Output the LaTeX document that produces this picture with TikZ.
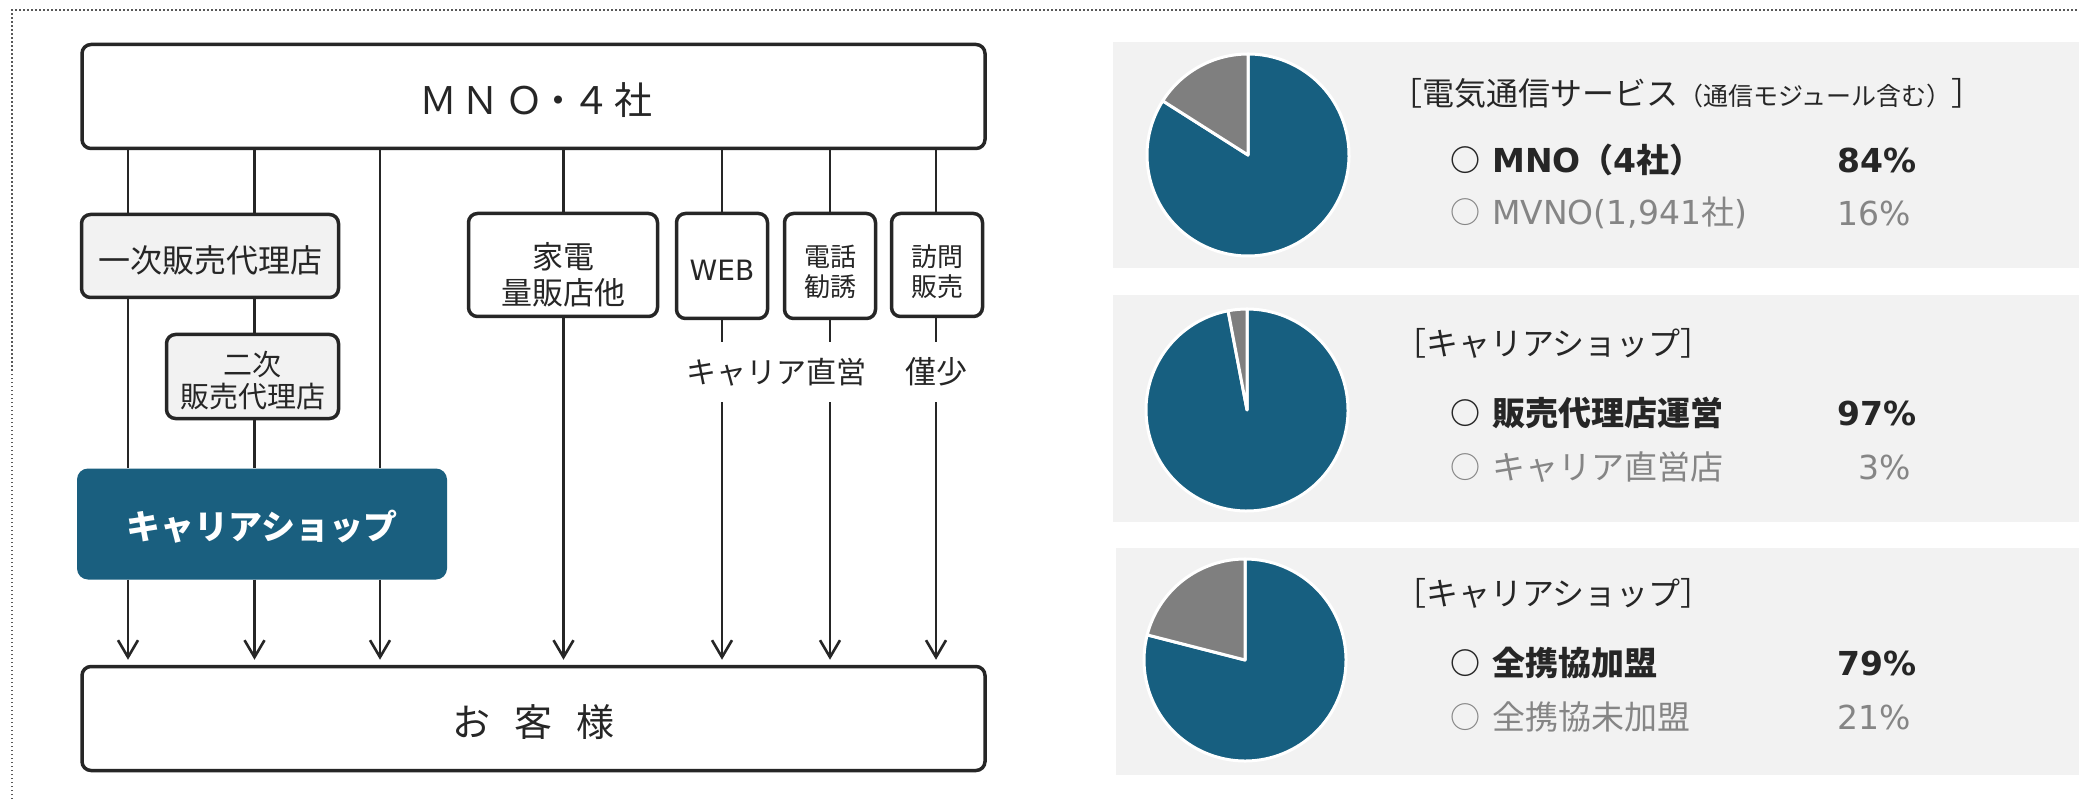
\documentclass[tikz,border=0pt]{standalone}
\usepackage{fontspec}
\setmainfont{Noto Sans CJK JP}
\newfontfamily\latf{DejaVu Sans}
\usetikzlibrary{arrows.meta}
\definecolor{dk}{HTML}{262626}
\definecolor{blu}{HTML}{175F80}
\definecolor{shopblu}{HTML}{1A5F7F}
\definecolor{pgray}{HTML}{7F7F7F}
\definecolor{tgray}{HTML}{858585}
\definecolor{panel}{HTML}{F2F2F2}
\newcommand\myfs[2]{\fontsize{#1pt}{#2pt}\selectfont}
\newcommand\mycirc{\raisebox{1pt}{\myfs{30}{30}○}\hspace{12pt}}
\begin{document}
\begin{tikzpicture}[x=1pt,y=1pt,
  box/.style={draw=dk,line width=3.5pt,rounded corners=9pt,fill=white,inner sep=0pt},
  gbox/.style={box,fill=panel},
  txt/.style={text=dk,inner sep=0pt,align=center},
  conn/.style={draw=dk,line width=2.6pt},
  arr/.style={conn,shorten >=5pt,-{Straight Barb[length=17pt,width=20pt]}},
  slice/.style={draw=white,line width=3pt,line join=round},
  ttl/.style={text=dk,inner sep=0pt,anchor=west,font=\myfs{32}{36}},
  itmb/.style={text=dk,inner sep=0pt,anchor=west,font={\bfseries\myfs{33}{36}}},
  itmg/.style={text=tgray,inner sep=0pt,anchor=west,font={\myfs{33}{36}}},
  pctb/.style={text=dk,inner sep=0pt,anchor=east,font={\latf\bfseries\myfs{33}{36}}},
  pctg/.style={text=tgray,inner sep=0pt,anchor=east,font={\latf\myfs{33}{36}}}]
\useasboundingbox (0,0) rectangle (2079,-799);
\fill[white] (0,0) rectangle (2079,-799);
% dotted frame
\draw[draw=black!65,line width=1.5pt,dash pattern=on 1.5pt off 2.5pt] (12,-799) -- (12,-10) -- (2079,-10);

% column coordinates
\coordinate (k1) at (128,0);
\coordinate (k2) at (254.5,0);
\coordinate (k3) at (380,0);
\coordinate (k4) at (563.5,0);
\coordinate (k5) at (722,0);
\coordinate (k6) at (830,0);
\coordinate (k7) at (936,0);

% boxes
\node[box,minimum width=903pt,minimum height=104pt] (mno) at (533.5,-96.5) {};
\node[txt,font=\myfs{38}{40}] (mnot) at (536,-100) {Ｍ\hspace{5pt}Ｎ\hspace{6pt}Ｏ\hspace{-5pt}・\hspace{-5pt}４\hspace{5pt}社};
\node[gbox,minimum width=257pt,minimum height=83pt] (ichi) at (210,-256) {};
\node[txt,font=\myfs{32}{36}] (ichit) at (210,-260) {一次販売代理店};
\node[gbox,minimum width=172pt,minimum height=84pt] (niji) at (252.5,-376.5) {};
\node[txt,font=\myfs{29}{32}] (nijit) at (252.5,-381) {二次\\販売代理店};
\node[box,minimum width=189pt,minimum height=103pt] (kaden) at (563,-265) {};
\node[txt,font=\myfs{31}{36}] (kadent) at (563,-275) {家電\\量販店他};
\node[box,minimum width=91pt,minimum height=105pt] (web) at (722,-266) {};
\node[txt,font={\latf\myfs{28}{30}}] (webt) at (722,-270) {WEB};
\node[box,minimum width=91pt,minimum height=105pt] (denwa) at (830,-266) {};
\node[txt,font=\myfs{26}{30}] (denwat) at (830,-272) {電話\\勧誘};
\node[box,minimum width=91pt,minimum height=103pt] (homon) at (937,-265) {};
\node[txt,font=\myfs{26}{30}] (homont) at (937,-272) {訪問\\販売};
\node[fill=shopblu,rounded corners=11pt,minimum width=370pt,minimum height=111pt,inner sep=0pt] (shop) at (262,-524) {};
\node[txt,text=white,font={\bfseries\myfs{34}{36}}] (shopt) at (262,-527) {キャリアショップ};
\node[box,minimum width=903pt,minimum height=104pt] (cust) at (533.5,-718.5) {};
\node[txt,font=\myfs{38}{40}] (custt) at (533.5,-722) {お\hspace{24pt}客\hspace{24pt}様};

% labels under WEB / 電話 / 訪問
\node[txt,font=\myfs{30}{32},minimum height=60pt] (lab1) at (776,-372) {キャリア直営};
\node[txt,font=\myfs{31}{32},minimum height=60pt] (lab2) at (936,-372) {僅少};

% connectors
\draw[conn] (mno.south -| k1) -- (ichi.north -| k1);
\draw[conn] (ichi.south -| k1) -- (shop.north -| k1);
\draw[arr] (shop.south -| k1) -- (cust.north -| k1);
\draw[conn] (mno.south -| k2) -- (ichi.north -| k2);
\draw[conn] (ichi.south -| k2) -- (niji.north -| k2);
\draw[conn] (niji.south -| k2) -- (shop.north -| k2);
\draw[arr] (shop.south -| k2) -- (cust.north -| k2);
\draw[conn] (mno.south -| k3) -- (shop.north -| k3);
\draw[arr] (shop.south -| k3) -- (cust.north -| k3);
\draw[conn] (mno.south -| k4) -- (kaden.north -| k4);
\draw[arr] (kaden.south -| k4) -- (cust.north -| k4);
\draw[conn] (mno.south -| k5) -- (web.north -| k5);
\draw[conn] (web.south -| k5) -- (lab1.north -| k5);
\draw[arr] (lab1.south -| k5) -- (cust.north -| k5);
\draw[conn] (mno.south -| k6) -- (denwa.north -| k6);
\draw[conn] (denwa.south -| k6) -- (lab1.north -| k6);
\draw[arr] (lab1.south -| k6) -- (cust.north -| k6);
\draw[conn] (mno.south -| k7) -- (homon.north -| k7);
\draw[conn] (homon.south -| k7) -- (lab2.north -| k7);
\draw[arr] (lab2.south -| k7) -- (cust.north -| k7);

% right panels
\fill[panel] (1113,-42) rectangle (2079,-268);
\fill[panel] (1113,-295) rectangle (2079,-522);
\fill[panel] (1116,-548) rectangle (2079,-775);

% pie 1: 84 / 16
\begin{scope}[shift={(1248,-155)}]
\filldraw[fill=blu,slice] (0,0) -- (147.6:101pt) arc[start angle=147.6,end angle=450,radius=101pt] -- cycle;
\filldraw[fill=pgray,slice] (0,0) -- (90:101pt) arc[start angle=90,end angle=147.6,radius=101pt] -- cycle;
\end{scope}
% pie 2: 97 / 3
\begin{scope}[shift={(1247,-410)}]
\filldraw[fill=blu,slice] (0,0) -- (100.8:101pt) arc[start angle=100.8,end angle=450,radius=101pt] -- cycle;
\filldraw[fill=pgray,slice] (0,0) -- (90:101pt) arc[start angle=90,end angle=100.8,radius=101pt] -- cycle;
\end{scope}
% pie 3: 79 / 21
\begin{scope}[shift={(1245,-660)}]
\filldraw[fill=blu,slice] (0,0) -- (165.6:101pt) arc[start angle=165.6,end angle=450,radius=101pt] -- cycle;
\filldraw[fill=pgray,slice] (0,0) -- (90:101pt) arc[start angle=90,end angle=165.6,radius=101pt] -- cycle;
\end{scope}

% panel 1 texts
\node[ttl] (t1) at (1390,-93) {［電気通信サービス{\myfs{25}{26}（通信モジュール含む）}］};
\node[itmb] (a1) at (1450,-160) {\mycirc{\latf MNO}（{\latf 4}社）};
\node[pctb] (p1) at (1917,-160) {84\%};
\node[itmg] (b1) at (1450,-213) {\mycirc{\latf MVNO(1,941}社{\latf )}};
\node[pctg] (q1) at (1911,-213) {16\%};
% panel 2 texts
\node[ttl] (t2) at (1394,-343) {［キャリアショップ］};
\node[itmb] (a2) at (1450,-413) {\mycirc 販売代理店運営};
\node[pctb] (p2) at (1917,-413) {97\%};
\node[itmg] (b2) at (1450,-467) {\mycirc キャリア直営店};
\node[pctg] (q2) at (1911,-467) {3\%};
% panel 3 texts
\node[ttl] (t3) at (1394,-593) {［キャリアショップ］};
\node[itmb] (a3) at (1450,-663) {\mycirc 全携協加盟};
\node[pctb] (p3) at (1917,-663) {79\%};
\node[itmg] (b3) at (1450,-717) {\mycirc 全携協未加盟};
\node[pctg] (q3) at (1911,-717) {21\%};
\end{tikzpicture}
\end{document}
